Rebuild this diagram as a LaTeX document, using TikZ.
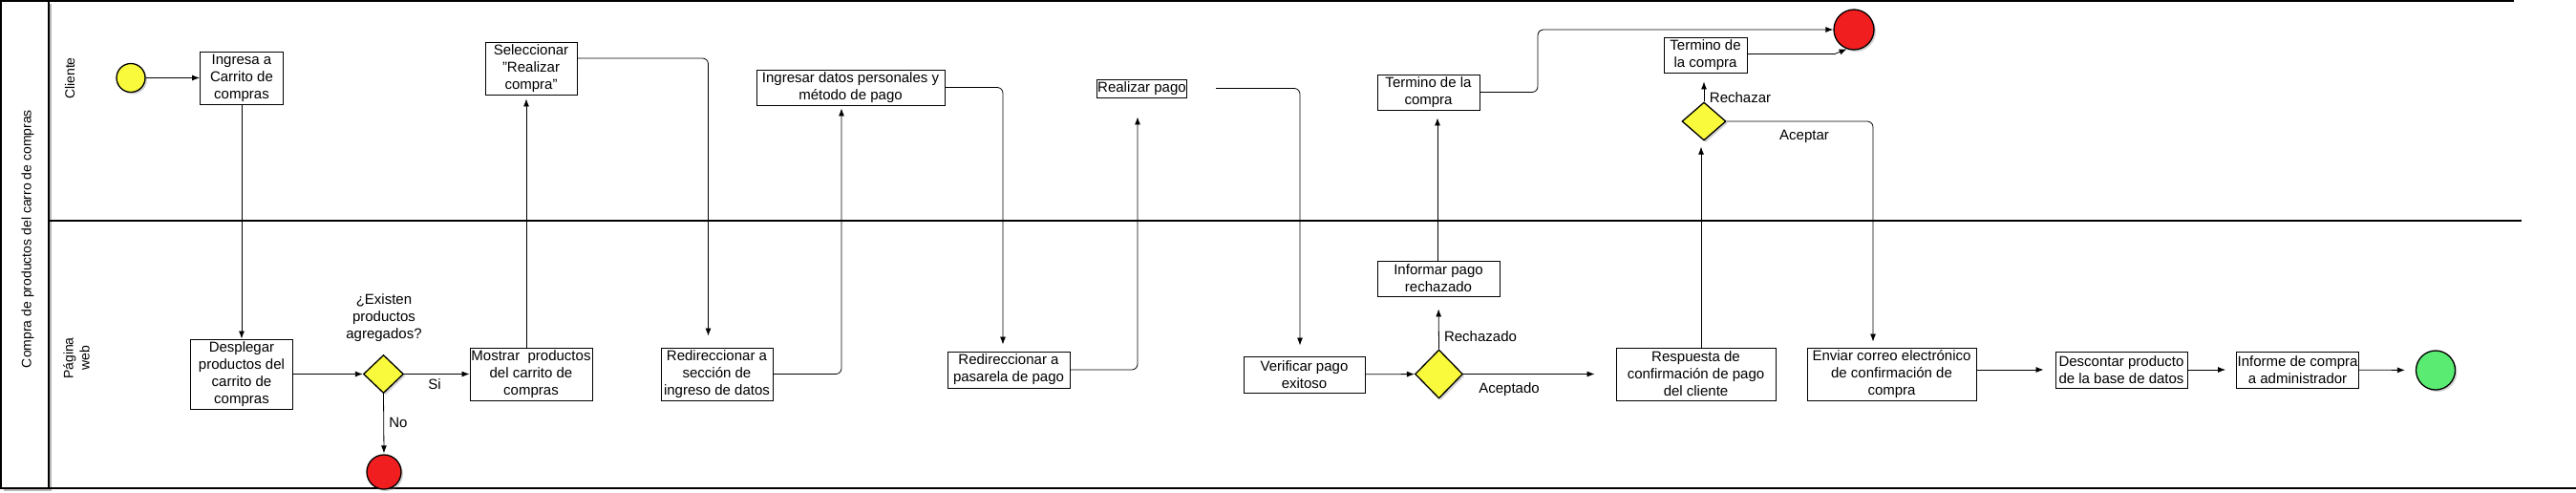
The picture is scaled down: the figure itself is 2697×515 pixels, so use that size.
\documentclass[tikz,border=0pt]{standalone}
\usepackage{fontspec}
\setmainfont{Liberation Sans}
\usetikzlibrary{arrows.meta,shapes.geometric,shadows,calc}
\definecolor{yel}{RGB}{250,250,60}
\definecolor{redc}{RGB}{240,30,30}
\definecolor{grn}{RGB}{90,235,115}
\tikzset{
  box/.style={draw, line width=0.9pt, align=center, inner sep=1pt, font=\fontsize{15}{18}\selectfont},
  lbl/.style={align=center, inner sep=0pt, font=\fontsize{15}{18}\selectfont},
  lane/.style={rotate=90, align=center, inner sep=0pt, font=\fontsize{14}{17}\selectfont},
  arr/.style={-{Latex[length=8pt,width=6pt]}, line width=0.8pt},
  conn/.style={line width=0.8pt},
  shad/.style={drop shadow={shadow xshift=2pt,shadow yshift=-2pt,opacity=0.35}},
  gate/.style={diamond, draw, fill=yel, line width=1.3pt, inner sep=0pt, shad},
  ev/.style={circle, draw, line width=1.3pt, inner sep=0pt, shad},
}
\begin{document}
\begin{tikzpicture}[x=1pt,y=-1pt]
\useasboundingbox (0,0) rectangle (2697,515);
% pool frame
\fill[gray!55] (4,4) rectangle (54,514);
\draw[line width=1.8pt, fill=white] (1,1) rectangle (51,511);
\draw[line width=1.2pt] (0,1) -- (2632,1);
\draw[line width=1.2pt] (51,231) -- (2640,231);
\draw[line width=1.4pt] (0,511) -- (2697,511);
\node[lane] (pool) at (29,250) {Compra de productos del carro de compras};
\node[lane] (lcli) at (73,82) {Cliente};
\node[lane] (lweb) at (80,375) {Página\\web};

% nodes
\node[ev, fill=yel, minimum size=30pt] (start) at (137,81.5) {};
\node[box, minimum width=87pt, minimum height=55pt] (ingresa) at (253,81.5) {Ingresa a\\Carrito de\\compras};
\node[box, minimum width=96pt, minimum height=55pt] (selec) at (556,71.5) {Seleccionar\\"Realizar\\compra"};
\node[box, minimum width=107pt, minimum height=73pt] (desplegar) at (253,391.5) {Desplegar\\productos del\\carrito de\\compras};
\node[gate, minimum width=42pt, minimum height=40pt] (dia1) at (401.5,391.5) {};
\node[lbl] (existen) at (402,333) {¿Existen\\productos\\agregados?};
\node[box, minimum width=128pt, minimum height=55pt] (mostrar) at (556,391.5) {Mostrar\ \ productos\\del carrito de\\compras};
\node[ev, fill=redc, minimum size=36pt] (end1) at (402,494) {};
\node[box, minimum width=117pt, minimum height=55pt] (redsec) at (750.5,391.5) {Redireccionar a\\sección de\\ingreso de datos};
\node[box, minimum width=197pt, minimum height=37pt] (ingdatos) at (890.5,91.5) {Ingresar datos personales y\\método de pago};
\node[box, minimum width=128pt, minimum height=38pt] (redpas) at (1056,387) {Redireccionar a\\pasarela de pago};
\node[box, minimum width=93pt, minimum height=19pt] (realpago) at (1195.5,92.5) {Realizar pago};
\node[box, minimum width=127pt, minimum height=38pt] (verificar) at (1365.5,392) {Verificar pago\\exitoso};
\node[gate, minimum width=50pt, minimum height=51pt] (dia2) at (1506.5,391.5) {};
\node[box, minimum width=128pt, minimum height=37pt] (informar) at (1506,291.5) {Informar pago\\rechazado};
\node[box, minimum width=107pt, minimum height=37pt] (termino1) at (1495.5,96.5) {Termino de la\\compra};
\node[ev, fill=redc, minimum size=42pt] (end2) at (1941,31) {};
\node[box, minimum width=167pt, minimum height=55pt] (respuesta) at (1775.5,391.5) {Respuesta de\\confirmación de pago\\del cliente};
\node[gate, minimum width=46pt, minimum height=40pt] (dia3) at (1784,127) {};
\node[box, minimum width=87pt, minimum height=37pt] (termino2) at (1785.5,57.5) {Termino de\\la compra};
\node[box, minimum width=177pt, minimum height=55pt] (enviar) at (1980.5,391.5) {Enviar correo electrónico\\de confirmación de\\compra};
\node[box, minimum width=138pt, minimum height=38pt] (descontar) at (2221,387) {Descontar producto\\de la base de datos};
\node[box, minimum width=127pt, minimum height=38pt] (informe) at (2405.5,387) {Informe de compra\\a administrador};
\node[ev, fill=grn, minimum size=41pt] (end3) at (2550,387.5) {};

% helper coordinates
\coordinate (k1) at (1610,31);
\coordinate (k2) at (1922,56);

% connectors
\draw[arr] (start) -- (ingresa);
\draw[arr] (ingresa.south) -- (desplegar.north);
\draw[arr] (desplegar) -- (dia1);
\draw[arr] (dia1) -- (mostrar);
\node[lbl] (lsi) at (455,402) {Si};
\draw[arr, shorten >=1pt] (dia1.south) -- (end1.north);
\node[lbl] (lno) at (417,442) {No};
\draw[arr, shorten >=4pt] ([xshift=-5pt]mostrar.north) -- ([xshift=-5pt]selec.south);
\draw[arr, rounded corners=6pt, shorten >=12pt] ([yshift=10.5pt]selec.east) -| ([xshift=-9pt]redsec.north);
\draw[arr, rounded corners=6pt, shorten >=3pt] (redsec.east) -| ([xshift=-9.5pt]ingdatos.south);
\draw[arr, rounded corners=6pt, shorten >=7pt] (ingdatos.east) -| ([xshift=-6pt]redpas.north);
\draw[arr, rounded corners=6pt, shorten >=20pt] (redpas.east) -| ([xshift=-4.5pt]realpago.south);
\draw[arr, rounded corners=6pt, shorten <=30pt, shorten >=11pt] (realpago.east) -| ([xshift=-4.5pt]verificar.north);
\draw[arr] (verificar) -- (dia2);
\draw[arr, shorten >=13pt] (dia2.north) -- (informar.south);
\node[lbl] (lrech) at (1550,352) {Rechazado};
\draw[arr, shorten >=22pt] (dia2.east) -- (respuesta.west |- dia2.east);
\node[lbl] (lacep) at (1580,408) {Aceptado};
\draw[arr, shorten >=8pt] ([xshift=-1pt]informar.north) -- ([xshift=-1pt]informar.north |- termino1.south);
\draw[arr, rounded corners=6pt] (termino1.east) -| (k1) -- (end2.west);
\draw[arr, shorten >=6pt] ([xshift=5.5pt]respuesta.north) -- ([xshift=5.5pt]respuesta.north |- dia3.south);
\draw[arr, shorten >=9pt] (dia3.north) -- (dia3.north |- termino2.south);
\node[lbl] (lrechz) at (1822,102) {Rechazar};
\draw[arr, rounded corners=6pt, shorten >=6pt] (dia3.east) -| ([xshift=-19.5pt]enviar.north);
\node[lbl] (lacept) at (1889,143) {Aceptar};
\draw[conn] (termino2.east |- k2) -- (k2);
\draw[arr] (k2) -- (end2.250);
\draw[arr, shorten >=12pt] (enviar.east |- descontar.west) -- (descontar.west);
\draw[arr, shorten >=11pt] (descontar) -- (informe);
\draw[arr, shorten >=11pt] (informe) -- (end3);
\end{tikzpicture}
\end{document}
